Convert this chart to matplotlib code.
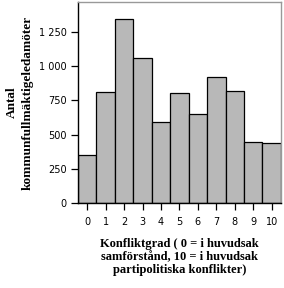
import matplotlib.pyplot as plt
from matplotlib.ticker import FuncFormatter

grades = list(range(11))
counts = [351, 812, 1346, 1063, 592, 805, 649, 924, 819, 449, 440]
yticks = [0, 250, 500, 750, 1000, 1250]

fig = plt.figure(figsize=(2.84, 2.88), dpi=100)
ax = fig.add_axes([0.2746, 0.295, 0.7144, 0.698])

ax.bar(grades, counts, width=1.0, color='#b8b8b8', edgecolor='black', linewidth=0.9)

ax.set_xlim(-0.5, 10.5)
ax.set_ylim(0, 1470)
ax.set_xticks(grades)
ax.set_yticks(yticks)
ax.yaxis.set_major_formatter(FuncFormatter(lambda v, p: f'{int(v):,}'.replace(',', ' ')))

for s in ['top', 'right']:
    ax.spines[s].set_color('#999999')
for s in ['left', 'bottom']:
    ax.spines[s].set_color('black')
for s in ax.spines.values():
    s.set_linewidth(1.0)

ax.tick_params(axis='both', direction='out', length=5, width=0.9, color='black',
               labelsize=7, pad=3)
ax.tick_params(axis='x', pad=5)
for lbl in ax.get_xticklabels() + ax.get_yticklabels():
    lbl.set_family('DejaVu Sans')

ax.set_xlabel('Konfliktgrad ( 0 = i huvudsak\nsamförstånd, 10 = i huvudsak\npartipolitiska konflikter)',
              family='Liberation Serif', fontweight='bold', fontsize=9, linespacing=1.1,
              labelpad=8)
ax.set_ylabel('Antal\nkommunfullmäktigeledamöter',
              family='Liberation Serif', fontweight='bold', fontsize=9.5, linespacing=1.35,
              labelpad=4)

fig.savefig('out.png', dpi=100)
